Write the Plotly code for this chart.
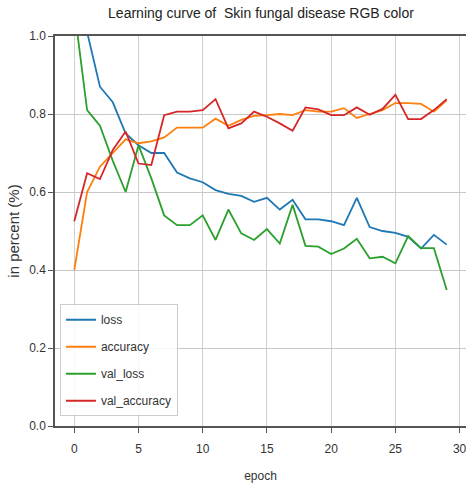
import plotly.graph_objects as go

epochs = list(range(30))
loss = [1.35, 1.01, 0.87, 0.83, 0.75, 0.72, 0.70, 0.70, 0.65, 0.635,
        0.625, 0.605, 0.595, 0.59, 0.575, 0.585, 0.555, 0.58, 0.53, 0.53,
        0.525, 0.515, 0.585, 0.51, 0.50, 0.495, 0.485, 0.455, 0.49, 0.465]
accuracy = [0.40, 0.60, 0.665, 0.70, 0.735, 0.725, 0.73, 0.74, 0.765, 0.765,
            0.765, 0.788, 0.77, 0.785, 0.795, 0.797, 0.80, 0.797, 0.81, 0.806,
            0.806, 0.815, 0.79, 0.80, 0.81, 0.828, 0.828, 0.826, 0.806, 0.835]
val_loss = [1.07, 0.81, 0.77, 0.68, 0.60, 0.72, 0.635, 0.54, 0.515, 0.515,
            0.54, 0.477, 0.555, 0.494, 0.477, 0.505, 0.468, 0.567, 0.462, 0.46,
            0.441, 0.455, 0.48, 0.43, 0.434, 0.417, 0.487, 0.456, 0.456, 0.349]
val_accuracy = [0.525, 0.648, 0.633, 0.708, 0.755, 0.673, 0.669, 0.797, 0.806, 0.806,
                0.81, 0.838, 0.763, 0.776, 0.806, 0.793, 0.776, 0.757, 0.817, 0.812,
                0.797, 0.797, 0.817, 0.798, 0.813, 0.849, 0.787, 0.787, 0.81, 0.838]
x_ticks = [0, 5, 10, 15, 20, 25, 30]
y_ticks = [0.0, 0.2, 0.4, 0.6, 0.8, 1.0]

series = [("loss", loss, "#1f77b4"), ("accuracy", accuracy, "#ff7f0e"),
          ("val_loss", val_loss, "#2ca02c"), ("val_accuracy", val_accuracy, "#d62728")]

fig = go.Figure()
for name, vals, col in series:
    fig.add_trace(go.Scatter(x=epochs, y=vals, mode="lines", name=name,
                             legendgroup=name,
                             line=dict(color=col, width=1.8)))

font = "Liberation Sans, Arial, sans-serif"
fig.update_layout(
    width=466, height=486,
    margin=dict(l=55, r=0, t=36, b=60),
    paper_bgcolor="white", plot_bgcolor="white",
    font=dict(family=font, size=12, color="#333333"),
    title=dict(text="Learning curve of  Skin fungal disease RGB color",
               x=261 / 466, xanchor="center", y=1 - 13 / 486, yanchor="middle",
               font=dict(size=14, color="#222222")),
    legend=dict(x=0.012, y=0.025, xanchor="left", yanchor="bottom",
                bgcolor="rgba(255,255,255,0.85)", bordercolor="#cccccc", borderwidth=1,
                font=dict(size=12, color="#333333"), tracegroupgap=8,
                itemwidth=30),
    showlegend=True,
)
fig.update_xaxes(range=[-1.5, 30.5], tickvals=x_ticks, automargin=False,
                 showgrid=True, gridcolor="#d0d0d0", gridwidth=1,
                 showline=True, linecolor="#555555", linewidth=1.5, mirror=True,
                 ticks="outside", ticklen=5, tickcolor="#555555", zeroline=False,
                 ticklabelstandoff=6, ticklabeloverflow="allow",
                 title=dict(text="epoch", standoff=16, font=dict(size=12)))
fig.update_yaxes(range=[0, 1.0], tickvals=y_ticks, automargin=False,
                 tickformat=".1f",
                 showgrid=True, gridcolor="#c8c8c8", gridwidth=1.2,
                 showline=True, linecolor="#555555", linewidth=1.5, mirror=True,
                 ticks="outside", ticklen=5, tickcolor="#555555", zeroline=False,
                 title=dict(text="in percent (%)", standoff=6, font=dict(size=15)))

fig.write_html("out.html", config={"displayModeBar": False},
               post_script="document.body.style.margin='0';")
